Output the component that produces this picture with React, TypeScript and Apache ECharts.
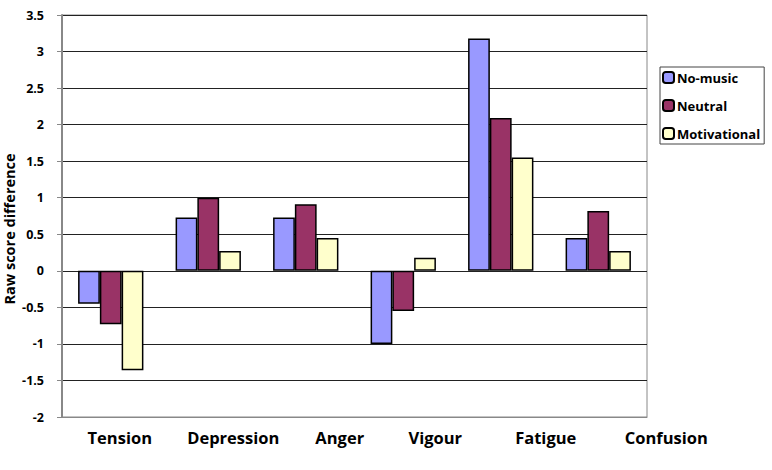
import React, { useEffect, useRef } from "react";
import * as echarts from "echarts";

const categories = ["Tension", "Depression", "Anger", "Vigour", "Fatigue", "Confusion"];
const noMusic = [-0.45, 0.73, 0.73, -1.0, 3.18, 0.45];
const neutral = [-0.73, 1.0, 0.91, -0.55, 2.09, 0.82];
const motivational = [-1.36, 0.27, 0.45, 0.18, 1.55, 0.27];
const seriesNames = ["No-music", "Neutral", "Motivational"];
const labelShift = [9, 25, 34, 32, 45, 68];

const FONT = "'Open Sans', Lato, sans-serif";
const WEIGHT = "bold";

export default function App() {
  const ref = useRef<HTMLDivElement>(null);
  useEffect(() => {
    if (!ref.current) return;
    const chart = echarts.init(ref.current, undefined, { renderer: "svg" });
    const rich: Record<string, any> = {};
    labelShift.forEach((s, i) => {
      rich["p" + i] = {
        padding: [0, 0, 0, 2 * s],
        fontFamily: FONT,
        fontWeight: WEIGHT,
        fontSize: 16.5,
        color: "#000",
      };
    });
    const barStyle = (color: string) => ({
      color,
      borderColor: "#000",
      borderWidth: 1.5,
    });
    chart.setOption({
      animation: false,
      backgroundColor: "#fff",
      grid: {
        left: 62,
        right: 125,
        top: 15,
        bottom: 53,
        show: true,
        borderColor: "#888",
        borderWidth: 1,
        backgroundColor: "transparent",
      },
      legend: {
        orient: "vertical",
        left: 660,
        top: 67,
        width: 106,
        height: 78,
        padding: [4, 4, 4, 2],
        borderColor: "#444",
        borderWidth: 1,
        itemWidth: 11,
        itemHeight: 11,
        itemGap: 15,
        data: seriesNames,
        textStyle: {
          fontFamily: FONT,
          fontWeight: WEIGHT,
          fontSize: 13,
          color: "#000",
          padding: [0, 0, 0, -2],
        },
      },
      xAxis: {
        type: "category",
        data: categories,
        axisLine: { show: true, onZero: false, lineStyle: { color: "#888", width: 1 } },
        axisTick: { show: false },
        splitLine: { show: false },
        axisLabel: {
          margin: 12,
          interval: 0,
          formatter: (v: string, i: number) => `{p${i}|${v}}`,
          rich,
        },
      },
      yAxis: {
        type: "value",
        min: -2,
        max: 3.5,
        interval: 0.5,
        axisLine: { show: true, lineStyle: { color: "#888", width: 2 } },
        axisTick: { show: true, length: 5, lineStyle: { color: "#888", width: 1 } },
        axisLabel: {
          margin: 18,
          fontFamily: FONT,
          fontWeight: WEIGHT,
          fontSize: 12.5,
          color: "#000",
        },
        splitLine: { show: true, lineStyle: { color: "#222", width: 1 } },
      },
      graphic: [
        {
          type: "text",
          x: 9,
          y: 229,
          rotation: Math.PI / 2,
          style: {
            text: "Raw score difference",
            fontFamily: FONT,
            fontWeight: WEIGHT,
            fontSize: 14.5,
            fill: "#000",
            align: "center",
            verticalAlign: "middle",
          },
        },
      ],
      series: [
        {
          name: seriesNames[0],
          type: "bar",
          data: noMusic,
          barGap: "0%",
          barCategoryGap: "33%",
          itemStyle: barStyle("#9999FF"),
        },
        {
          name: seriesNames[1],
          type: "bar",
          data: neutral,
          barGap: "0%",
          barCategoryGap: "33%",
          itemStyle: barStyle("#993366"),
        },
        {
          name: seriesNames[2],
          type: "bar",
          data: motivational,
          barGap: "0%",
          barCategoryGap: "33%",
          itemStyle: barStyle("#FFFFCC"),
        },
      ],
    });
    return () => chart.dispose();
  }, []);
  return (
    <div
      ref={ref}
      style={{ position: "absolute", left: 0, top: 0, width: 772, height: 470 }}
    />
  );
}
